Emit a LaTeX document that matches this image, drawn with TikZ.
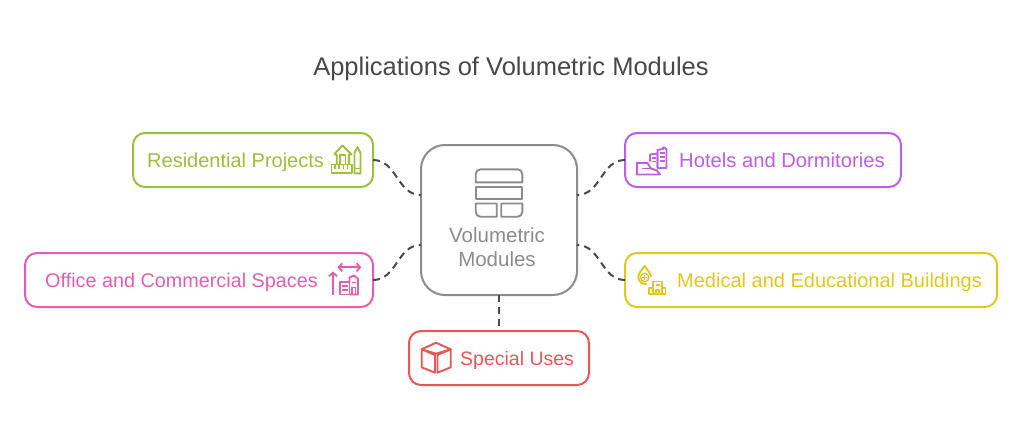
\documentclass[tikz,border=0pt]{standalone}
\usepackage{fontspec}
\setmainfont{Liberation Sans}
\usetikzlibrary{arrows.meta}
\definecolor{cgreen}{HTML}{9DBF3E}
\definecolor{cpurple}{HTML}{BC5FE2}
\definecolor{cpink}{HTML}{E25FB0}
\definecolor{cyellow}{HTML}{E2C81E}
\definecolor{cred}{HTML}{E85656}
\definecolor{cgrey}{HTML}{8C8C8C}
\definecolor{ctitle}{HTML}{484848}
\definecolor{cconn}{HTML}{4A4A4A}
\tikzset{
  box/.style={draw=#1,line width=2pt,rounded corners=12pt,fill=white,inner sep=0pt,outer sep=0pt,anchor=north west},
  lab/.style={text=#1,inner sep=0pt,anchor=base west},
  conn/.style={draw=cconn,line width=2pt,dash pattern=on 7pt off 5pt},
  icon/.style={draw=#1,line width=1.9pt,line join=round,fill=none},
  thin icon/.style={draw=#1,line width=1.4pt,line join=round,fill=none},
  barb/.style={{Straight Barb[length=3.5pt,width=8pt]}-{Straight Barb[length=3.5pt,width=8pt]}},
  arr/.style={-{Straight Barb[length=3.5pt,width=8pt]}}
}
\begin{document}
\begin{tikzpicture}[x=1pt,y=-1pt]
\useasboundingbox (0,0) rectangle (1022,434);
% boxes
\node[box=cgreen,minimum width=240pt,minimum height=54pt] (res) at (133,133) {};
\node[box=cpurple,minimum width=276pt,minimum height=54pt] (hot) at (625,133) {};
\node[box=cpink,minimum width=348pt,minimum height=54pt] (off) at (25,253) {};
\node[box=cyellow,minimum width=372pt,minimum height=54pt] (med) at (625,253) {};
\node[box=cred,minimum width=180pt,minimum height=54pt] (spe) at (409,331) {};
\node[box=cgrey,rounded corners=24pt,minimum width=156pt,minimum height=150pt] (cen) at (421,145) {};
% connectors
\draw[conn] (res.east) .. controls (397,160) and (397,195) .. ([yshift=25pt]cen.west);
\draw[conn] (off.east) .. controls (397,280) and (397,245) .. ([yshift=-25pt]cen.west);
\draw[conn] (hot.west) .. controls (601,160) and (601,195) .. ([yshift=25pt]cen.east);
\draw[conn] (med.west) .. controls (601,280) and (601,245) .. ([yshift=-25pt]cen.east);
\draw[conn] (cen.south) -- (spe.north);
% labels
\node[text=ctitle,font=\fontsize{25.5}{28}\selectfont,inner sep=0pt] (title) at (511,68.5) {Applications of Volumetric Modules};
\node[lab=cgreen,font=\fontsize{20}{22}\selectfont] (lres) at (147,167) {Residential Projects};
\node[lab=cpurple,font=\fontsize{20.2}{22}\selectfont] (lhot) at (679,167) {Hotels and Dormitories};
\node[lab=cpink,font=\fontsize{19.8}{22}\selectfont] (loff) at (45,287) {Office and Commercial Spaces};
\node[lab=cyellow,font=\fontsize{20}{22}\selectfont] (lmed) at (677,287) {Medical and Educational Buildings};
\node[lab=cred,font=\fontsize{19.5}{22}\selectfont] (lspe) at (460,365) {Special Uses};
\node[text=cgrey,font=\fontsize{20.5}{24}\selectfont,align=center,inner sep=0pt] (lcen) at (497,247) {Volumetric\\[0pt]Modules};
% centre icon
\draw[icon=cgrey] (475.7,182.3) -- (475.7,174) arc[start angle=180,end angle=270,radius=4.7] -- (517.6,169.3) arc[start angle=270,end angle=360,radius=4.7] -- (522.3,182.3) -- cycle;
\draw[icon=cgrey] (475.7,187) rectangle (522.3,199);
\draw[icon=cgrey] (475.7,203.5) -- (496.7,203.5) -- (496.7,216.7) -- (480.4,216.7) arc[start angle=90,end angle=180,radius=4.7] -- cycle;
\draw[icon=cgrey] (501.2,203.5) -- (522.3,203.5) -- (522.3,212) arc[start angle=0,end angle=90,radius=4.7] -- (501.2,216.7) -- cycle;
% residential icon
\draw[icon=cgreen] (334,154.5) -- (342.5,145.5) -- (351.5,154.5) -- (349,154.5) -- (349,164) (334,154.5) -- (336.7,154.5) -- (336.7,164);
\draw[icon=cgreen] (340.2,164) -- (340.2,155) -- (345.5,155) -- (345.5,164);
\draw[icon=cgreen] (331.5,164.5) rectangle (351.7,173.3);
\draw[thin icon=cgreen] (335,164.5) -- (335,169) (339,164.5) -- (339,169) (343.2,164.5) -- (343.2,169) (347.5,164.5) -- (347.5,169);
\draw[icon=cgreen] (354.5,153) -- (357.5,147) -- (360.5,153) -- (360.5,173.3) -- (354.5,173.3) -- cycle;
\draw[thin icon=cgreen] (354.5,168.3) -- (360.5,168.3);
% office icon
\draw[icon=cpink,barb] (337.5,267.3) -- (361.3,267.3);
\draw[icon=cpink,arr] (333,295.3) -- (333,271.5);
\draw[icon=cpink] (340,294.5) -- (340,282) -- (349.5,282) -- (349.5,294.5) -- cycle;
\draw[icon=cpink] (349.5,282) -- (349.5,277.5) -- (354,275.5) -- (358,279) -- (358,294.5) -- (349.5,294.5);
\draw[thin icon=cpink] (342,286) -- (347.5,286) (342,290) -- (347.5,290) (351.5,282.5) -- (356,282.5);
\draw[thin icon=cpink] (352,294.5) -- (352,287.5) -- (355.5,287.5) -- (355.5,294.5);
% hotels icon
\draw[icon=cpurple] (636.8,162) -- (636.8,174.5) -- (660,174.5) -- (657,170.5) -- (651,168.5) -- (647.5,163) -- (636.8,163);
\draw[thin icon=cpurple] (642,168.7) -- (651,168.7);
\draw[icon=cpurple] (650,161.5) -- (650,154.5) -- (657.5,153.5) -- (657.5,168);
\draw[icon=cpurple] (657.5,168) -- (657.5,150) -- (663,149) -- (663,147.5) -- (664.5,147.5) -- (666.5,149.5) -- (666.5,168) -- cycle;
\draw[thin icon=cpurple] (652,158) -- (656,158) (652,161.5) -- (656,161.5) (659.5,153) -- (664.5,153) (659.5,157) -- (664.5,157) (659.5,161) -- (664.5,161);
% medical icon
\draw[icon=cyellow] (646.5,284) .. controls (641.5,284.5) and (638.3,281) .. (638.3,277) .. controls (638.3,273) and (642,270) .. (644.7,266) .. controls (647.5,270) and (650,273) .. (651.3,276.5);
\draw[thin icon=cyellow] (644.7,277.5) circle[radius=4.2];
\draw[thin icon=cyellow] (642.4,277.5) -- (647,277.5) (644.7,275.2) -- (644.7,279.8);
\draw[icon=cyellow] (653,288) -- (649,288) -- (649,294.2) -- (665.5,294.2) -- (665.5,288) -- (662,288);
\draw[icon=cyellow] (653,294.2) -- (653,281.5) -- (662,281.5) -- (662,294.2);
\draw[thin icon=cyellow] (655.5,285) -- (659.5,285) (656,294) -- (656,290) -- (659,290) -- (659,294);
% special uses icon
\draw[icon=cred] (436,342.7) -- (450.7,349.3) -- (436,353.7) -- (421.7,349.3) -- cycle;
\draw[icon=cred] (421.7,349.3) -- (435,355) -- (435,372.7) -- (421.7,367.3) -- cycle;
\draw[icon=cred] (437.5,355) -- (450.7,349.3) -- (450.7,367.3) -- (437.5,372.7) -- cycle;
\end{tikzpicture}
\end{document}
